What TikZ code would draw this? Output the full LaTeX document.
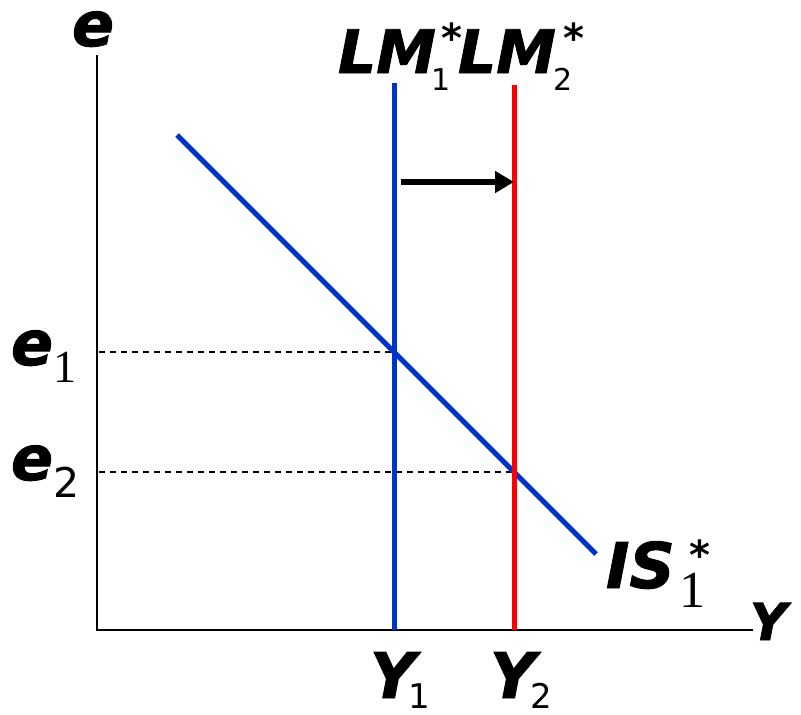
\documentclass[tikz,border=0pt]{standalone}
\usepackage{fontspec}
\setmainfont{DejaVu Sans}
\newfontfamily\numserif{Liberation Serif}
\newfontfamily\heavyfont[FakeBold=1.5]{DejaVu Sans Bold Oblique}
\usetikzlibrary{arrows.meta}
\definecolor{lmblue}{RGB}{0,51,204}
\definecolor{lmred}{RGB}{255,0,0}
\newcommand\bigf[1]{\fontsize{#1}{#1}\heavyfont}
\newcommand\regf[1]{\normalfont\fontsize{#1}{#1}\selectfont}
\newcommand\serf[1]{\normalfont\numserif\fontsize{#1}{#1}\selectfont}
\newcommand\starf{\normalfont\fontsize{40}{40}\selectfont\bfseries}
\begin{document}
\begin{tikzpicture}[x=1pt,y=-1pt,
  lbl/.style={inner sep=0pt,outer sep=0pt,anchor=base west},
  axis/.style={line width=2pt,black},
  curve/.style={line width=5pt},
  guide/.style={line width=1.5pt,dash pattern=on 6pt off 5pt},
  shiftarrow/.style={line width=6.5pt,-{Triangle[length=19pt,width=21pt]}}]
\useasboundingbox (0,0) rectangle (801,715);
% axes
\coordinate (ytop) at (97,55);
\coordinate (O) at (97,630);
\coordinate (xend) at (753,630);
\draw[axis] (ytop) -- (O) -- (xend);
% key points
\coordinate (A) at (394,352);
\coordinate (B) at (514,472);
\coordinate (eA) at (99,352);
\coordinate (eB) at (99,472);
\coordinate (lm1top) at (394,83);
\coordinate (lm1bot) at (394,630);
\coordinate (lm2top) at (514,85);
\coordinate (lm2bot) at (514,630);
\coordinate (isS) at (177,135);
\coordinate (isE) at (596,554);
\coordinate (arrS) at (401,182);
\coordinate (arrE) at (514,182);
% dashed guides
\draw[guide] (eA) -- (A);
\draw[guide] (eB) -- (B);
% curves
\draw[curve,lmblue] (isS) -- (isE);
\draw[curve,lmblue] (lm1top) -- (lm1bot);
\draw[curve,lmred] (lm2top) -- (lm2bot);
% shift arrow
\draw[shiftarrow] (arrS) -- (arrE);
% labels
\node[lbl] (le) at (72,46) {\smash{\bigf{62}e}};
\node[lbl] (llm1) at (338,73) {\smash{\bigf{60}LM\hspace{-4pt}\rlap{\raisebox{-17pt}{\regf{30}1}}\hspace{10pt}\rlap{\raisebox{21pt}{\starf *}}}};
\node[lbl] (llm2) at (458,73) {\smash{\bigf{60}LM\hspace{-2pt}\rlap{\raisebox{-17pt}{\regf{30}2}}\hspace{10pt}\rlap{\raisebox{21pt}{\starf *}}}};
\node[lbl] (le1) at (11,365) {\smash{\bigf{62}e\raisebox{-17pt}{\serf{46}1}}};
\node[lbl] (le2) at (11,480) {\smash{\bigf{62}e\raisebox{-17pt}{\regf{41}2}}};
\node[lbl] (lis) at (606,588) {\smash{\bigf{63}IS\hspace{5pt}\rlap{\raisebox{-19pt}{\serf{52}1}}\hspace{10pt}\rlap{\raisebox{19pt}{\starf *}}}};
\node[lbl] (lY) at (750,640) {\smash{\bigf{51}Y}};
\node[lbl] (lY1) at (370,698) {\smash{\bigf{63}Y\hspace{-7pt}\raisebox{-10pt}{\regf{34}1}}};
\node[lbl] (lY2) at (490,698) {\smash{\bigf{63}Y\hspace{-5pt}\raisebox{-10pt}{\regf{34}2}}};
\end{tikzpicture}
\end{document}
